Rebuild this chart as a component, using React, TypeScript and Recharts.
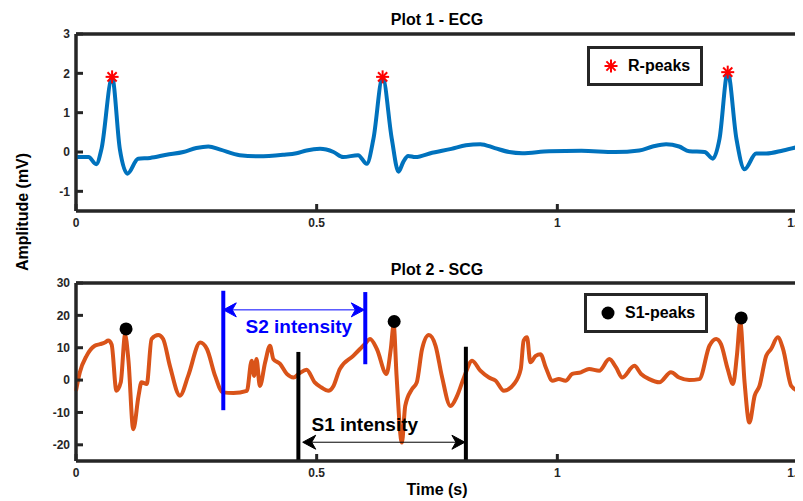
import { ComposedChart, Line, XAxis, YAxis, ReferenceLine, ReferenceDot } from "recharts";

const xTicks = [0, 0.5, 1, 1.5];
const ecgTicks = [-1, 0, 1, 2, 3];
const scgTicks = [-20, -10, 0, 10, 20, 30];
const xDomain: [number, number] = [0, 1.5];
const ecgDomain: [number, number] = [-1.5, 3];
const scgDomain: [number, number] = [-25, 30];

const ecgTime = [
  0, 0.026, 0.042, 0.053, 0.075, 0.091, 0.107, 0.129, 0.154, 0.188, 0.223, 0.25,
  0.275, 0.3, 0.34, 0.38, 0.43, 0.458, 0.479, 0.507, 0.535, 0.555, 0.586, 0.604,
  0.618, 0.637, 0.656, 0.67, 0.68, 0.69, 0.705, 0.74, 0.78, 0.81, 0.84, 0.87, 0.9,
  0.927, 0.983, 1.05, 1.12, 1.17, 1.198, 1.226, 1.253, 1.274, 1.306, 1.323, 1.337,
  1.354, 1.372, 1.389, 1.413, 1.434, 1.469, 1.5,
];
const ecgAmp = [
  -0.13, -0.13, -0.31, 0.08, 1.9, 0.08, -0.55, -0.17, -0.15, -0.07, 0, 0.1, 0.14,
  0.06, -0.08, -0.11, -0.07, -0.03, 0.04, 0.08, 0, -0.13, -0.08, -0.3, 0.34, 1.9,
  0.34, -0.5, -0.25, -0.1, -0.13, -0.02, 0.08, 0.17, 0.2, 0.1, 0, -0.03, 0.02, 0.03,
  0, 0.04, 0.14, 0.2, 0.14, 0.02, 0, -0.17, 0.34, 2.03, 0.34, -0.44, -0.04, -0.04,
  0.04, 0.13,
];

const scgTime = [
  0, 0.008, 0.022, 0.039, 0.05, 0.06, 0.067, 0.074, 0.084, 0.093, 0.102, 0.109,
  0.119, 0.13, 0.136, 0.147, 0.157, 0.171, 0.181, 0.195, 0.216, 0.233, 0.258, 0.272,
  0.289, 0.305, 0.327, 0.355, 0.365, 0.37, 0.375, 0.382, 0.393, 0.403, 0.41, 0.424,
  0.438, 0.452, 0.465, 0.479, 0.496, 0.51, 0.524, 0.535, 0.548, 0.576, 0.59, 0.6,
  0.611, 0.625, 0.645, 0.654, 0.66, 0.666, 0.677, 0.684, 0.698, 0.708, 0.719, 0.733,
  0.747, 0.76, 0.778, 0.792, 0.806, 0.823, 0.84, 0.858, 0.872, 0.889, 0.91, 0.924,
  0.93, 0.937, 0.944, 0.955, 0.965, 0.976, 0.99, 1.003, 1.017, 1.031, 1.049, 1.066,
  1.087, 1.108, 1.122, 1.135, 1.16, 1.174, 1.191, 1.212, 1.236, 1.253, 1.274, 1.295,
  1.316, 1.33, 1.34, 1.354, 1.365, 1.373, 1.38, 1.389, 1.399, 1.41, 1.42, 1.434,
  1.444, 1.458, 1.469, 1.486, 1.5,
];
const scgAmp = [
  -3.3, 2.4, 7.5, 10.6, 11.1, 11.6, 12.2, 11, -3.3, -0.7, 14, 6, -15.2, -4.8, -0.7,
  -1.2, 12.7, 13.9, 12.7, 4.4, -4.8, 1.3, 11.6, 9.6, 1.3, -3.8, -4, -3.3, 6, 1.3,
  6.5, -1.8, 5.5, 10.6, 6.5, 5, 1.9, 0.8, 2.2, 3.2, -0.7, -2.3, -3.3, -1.8, 3.4, 7.5,
  9.6, 11.1, 12.7, 9.6, 1.9, 9.6, 17, 1.3, -19.3, -8, -2.8, -0.7, 9.6, 13.9, 10.6,
  1.3, -8, -4.8, 0.8, 6, 2.9, 0.8, -0.2, -3.3, -1.2, 3.4, 12.2, 13.2, 5.5, 7.5, 8,
  3.9, -0.2, 0.3, -0.2, 1.9, 2.4, 3.4, 2.9, 6.5, 3.9, 0.8, 4.4, 1.9, 0.3, -0.7, 2.4,
  0.8, 0, 0.3, 10.6, 12.7, 11.1, 3.4, -1.2, 7.5, 18, -0.7, -13.1, -4.8, -1.8, 7.5,
  9.6, 13.2, 9.6, -1.8, -3.3,
];

const rPeakTime = [0.075, 0.637, 1.354];
const rPeakAmp = [1.91, 1.91, 2.03];
const s1PeakTime = [0.104, 0.661, 1.382];
const s1PeakAmp = [15.8, 18.1, 19.2];

// annotation markers (data units)
const s2Bounds = [
  { t: 0.306, top: 27.6, bottom: -9.3 },
  { t: 0.601, top: 27.2, bottom: 4.9 },
];
const s1Bounds = [
  { t: 0.462, top: 8.7, bottom: -25 },
  { t: 0.81, top: 10.3, bottom: -25 },
];
const s2Arrow = { from: 0.306, to: 0.599, y: 21.7 };
const s1Arrow = { from: 0.471, to: 0.808, y: -19.2 };

const ecgData = ecgTime.map((t, i) => ({ t, v: ecgAmp[i] }));
const scgData = scgTime.map((t, i) => ({ t, v: scgAmp[i] }));
const rPeaks = rPeakTime.map((t, i) => ({ t, v: rPeakAmp[i] }));
const s1Peaks = s1PeakTime.map((t, i) => ({ t, v: s1PeakAmp[i] }));

const FONT = '"Liberation Sans", Arial, Helvetica, sans-serif';
const AXIS = "#262626";
const BLUE = "#0000ff";
const W = 803;

const tickStyle = { fill: AXIS, stroke: "none", fontSize: 12, fontWeight: 700, fontFamily: FONT };
const blank = () => "";

const Star = (props: any) => {
  const { cx, cy } = props;
  const r = 6.5;
  const d = r * 0.707;
  return (
    <g key={props.key} stroke="#ff0000" strokeWidth={2}>
      <line x1={cx - r} y1={cy} x2={cx + r} y2={cy} />
      <line x1={cx} y1={cy - r} x2={cx} y2={cy + r} />
      <line x1={cx - d} y1={cy - d} x2={cx + d} y2={cy + d} />
      <line x1={cx - d} y1={cy + d} x2={cx + d} y2={cy - d} />
    </g>
  );
};

const Dot = (props: any) => <circle key={props.key} cx={props.cx} cy={props.cy} r={6.5} fill="#000" />;

const doubleArrow = (color: string) => (props: any) => {
  const { x1, y1, x2 } = props;
  const y = y1;
  const l = 13;
  const w = 7;
  const n = 9;
  return (
    <g>
      <line x1={x1 + n} y1={y} x2={x2 - n} y2={y} stroke={color} strokeWidth={1} />
      <polygon
        points={`${x1},${y} ${x1 + l},${y - w} ${x1 + n},${y} ${x1 + l},${y + w}`}
        fill={color}
        stroke={color}
        strokeLinejoin="round"
      />
      <polygon
        points={`${x2},${y} ${x2 - l},${y - w} ${x2 - n},${y} ${x2 - l},${y + w}`}
        fill={color}
        stroke={color}
        strokeLinejoin="round"
      />
    </g>
  );
};

const textShape = (label: string, color: string) => (props: any) => (
  <text
    x={props.cx}
    y={props.cy}
    textAnchor="middle"
    fill={color}
    fontSize={19}
    fontWeight={700}
    fontFamily={FONT}
  >
    {label}
  </text>
);

function LegendBox({ label, marker, left, top }: { label: string; marker: "star" | "dot"; left: number; top: number }) {
  return (
    <div
      style={{
        position: "absolute",
        left,
        top,
        border: `3px solid ${AXIS}`,
        background: "#fff",
        display: "flex",
        alignItems: "center",
        padding: "8px 10px 8px 12px",
        fontFamily: FONT,
        fontWeight: 700,
        fontSize: 16,
        lineHeight: "18px",
        color: "#000",
        whiteSpace: "nowrap",
      }}
    >
      <svg width={18} height={18} style={{ marginRight: 8 }}>
        {marker === "star" ? <Star cx={9} cy={9} /> : <Dot cx={9} cy={9} />}
      </svg>
      {label}
    </div>
  );
}

const labelStyle: any = {
  position: "absolute",
  fontFamily: FONT,
  fontWeight: 700,
  fontSize: 16,
  color: "#000",
  lineHeight: "18px",
  textAlign: "center",
  whiteSpace: "nowrap",
};

export default function App() {
  return (
    <div style={{ position: "relative", margin: "-8px 0 0 -8px", width: W, height: 501, background: "#fff" }}>
      <ComposedChart width={W} height={250} margin={{ top: 33, right: 0, bottom: 14, left: 0 }}>
        <XAxis
          type="number"
          dataKey="t"
          domain={xDomain}
          ticks={xTicks}
          height={25}
          stroke={AXIS}
          strokeWidth={3}
          tickSize={-7}
          tickMargin={14}
          tick={tickStyle}
        />
        <XAxis
          xAxisId="top"
          orientation="top"
          type="number"
          dataKey="t"
          domain={xDomain}
          ticks={xTicks}
          height={1}
          stroke={AXIS}
          strokeWidth={3}
          tickSize={-7}
          tickFormatter={blank}
        />
        <YAxis
          type="number"
          domain={ecgDomain}
          ticks={ecgTicks}
          width={76}
          stroke={AXIS}
          strokeWidth={3}
          tickSize={-7}
          tickMargin={13}
          tick={tickStyle}
        />
        <YAxis
          yAxisId="right"
          orientation="right"
          type="number"
          domain={ecgDomain}
          ticks={ecgTicks}
          width={5}
          stroke={AXIS}
          strokeWidth={3}
          tickSize={-7}
          tickFormatter={blank}
        />
        <ReferenceLine segment={[{ x: xDomain[0], y: ecgDomain[1] }, { x: xDomain[1], y: ecgDomain[1] }]} stroke={AXIS} strokeWidth={3} ifOverflow="visible" />
        <ReferenceLine segment={[{ x: xDomain[1], y: ecgDomain[0] }, { x: xDomain[1], y: ecgDomain[1] }]} stroke={AXIS} strokeWidth={3} ifOverflow="visible" />
        <ReferenceLine segment={[{ x: xDomain[0], y: ecgDomain[0] }, { x: xDomain[0], y: ecgDomain[1] }]} stroke={AXIS} strokeWidth={3} ifOverflow="visible" />
        <ReferenceLine segment={[{ x: xDomain[0], y: ecgDomain[0] }, { x: xDomain[1], y: ecgDomain[0] }]} stroke={AXIS} strokeWidth={3} ifOverflow="visible" />
        <Line data={ecgData} dataKey="v" type="monotone" stroke="#0072bd" strokeWidth={4} dot={false} isAnimationActive={false} />
        <Line data={rPeaks} dataKey="v" stroke="none" dot={Star} activeDot={false} isAnimationActive={false} />
      </ComposedChart>

      <ComposedChart width={W} height={251} margin={{ top: 32, right: 0, bottom: 15, left: 0 }}>
        <XAxis
          type="number"
          dataKey="t"
          domain={xDomain}
          ticks={xTicks}
          height={25}
          stroke={AXIS}
          strokeWidth={3}
          tickSize={-7}
          tickMargin={14}
          tick={tickStyle}
        />
        <XAxis
          xAxisId="top"
          orientation="top"
          type="number"
          dataKey="t"
          domain={xDomain}
          ticks={xTicks}
          height={1}
          stroke={AXIS}
          strokeWidth={3}
          tickSize={-7}
          tickFormatter={blank}
        />
        <YAxis
          type="number"
          domain={scgDomain}
          ticks={scgTicks}
          width={76}
          stroke={AXIS}
          strokeWidth={3}
          tickSize={-7}
          tickMargin={13}
          tick={tickStyle}
        />
        <YAxis
          yAxisId="right"
          orientation="right"
          type="number"
          domain={scgDomain}
          ticks={scgTicks}
          width={5}
          stroke={AXIS}
          strokeWidth={3}
          tickSize={-7}
          tickFormatter={blank}
        />
        <ReferenceLine segment={[{ x: xDomain[0], y: scgDomain[1] }, { x: xDomain[1], y: scgDomain[1] }]} stroke={AXIS} strokeWidth={3} ifOverflow="visible" />
        <ReferenceLine segment={[{ x: xDomain[1], y: scgDomain[0] }, { x: xDomain[1], y: scgDomain[1] }]} stroke={AXIS} strokeWidth={3} ifOverflow="visible" />
        <ReferenceLine segment={[{ x: xDomain[0], y: scgDomain[0] }, { x: xDomain[0], y: scgDomain[1] }]} stroke={AXIS} strokeWidth={3} ifOverflow="visible" />
        <ReferenceLine segment={[{ x: xDomain[0], y: scgDomain[0] }, { x: xDomain[1], y: scgDomain[0] }]} stroke={AXIS} strokeWidth={3} ifOverflow="visible" />
        <Line data={scgData} dataKey="v" type="monotone" stroke="#d95319" strokeWidth={4} dot={false} isAnimationActive={false} />
        <Line data={s1Peaks} dataKey="v" stroke="none" dot={Dot} activeDot={false} isAnimationActive={false} />
        {s2Bounds.map((b, i) => (
          <ReferenceLine
            key={`s2-${i}`}
            segment={[
              { x: b.t, y: b.top },
              { x: b.t, y: b.bottom },
            ]}
            stroke={BLUE}
            strokeWidth={4}
            ifOverflow="visible"
          />
        ))}
        {s1Bounds.map((b, i) => (
          <ReferenceLine
            key={`s1-${i}`}
            segment={[
              { x: b.t, y: b.top },
              { x: b.t, y: b.bottom },
            ]}
            stroke="#000"
            strokeWidth={4}
            ifOverflow="visible"
          />
        ))}
        <ReferenceLine
          segment={[
            { x: s2Arrow.from, y: s2Arrow.y },
            { x: s2Arrow.to, y: s2Arrow.y },
          ]}
          shape={doubleArrow(BLUE)}
          ifOverflow="visible"
        />
        <ReferenceLine
          segment={[
            { x: s1Arrow.from, y: s1Arrow.y },
            { x: s1Arrow.to, y: s1Arrow.y },
          ]}
          shape={doubleArrow("#000")}
          ifOverflow="visible"
        />
        <ReferenceDot x={0.463} y={14.6} shape={textShape("S2 intensity", BLUE)} ifOverflow="visible" />
        <ReferenceDot x={0.6} y={-15.8} shape={textShape("S1 intensity", "#000")} ifOverflow="visible" />
      </ComposedChart>

      <LegendBox label="R-peaks" marker="star" left={587} top={46} />
      <LegendBox label="S1-peaks" marker="dot" left={584} top={293} />

      <div style={{ ...labelStyle, left: 76, width: 722, top: 11 }}>Plot 1 - ECG</div>
      <div style={{ ...labelStyle, left: 76, width: 722, top: 261 }}>Plot 2 - SCG</div>
      <div style={{ ...labelStyle, left: 76, width: 722, top: 481 }}>Time (s)</div>
      <div
        style={{
          ...labelStyle,
          left: 23 - 100,
          width: 200,
          top: 212 - 9,
          transform: "rotate(-90deg)",
        }}
      >
        Amplitude (mV)
      </div>
    </div>
  );
}
